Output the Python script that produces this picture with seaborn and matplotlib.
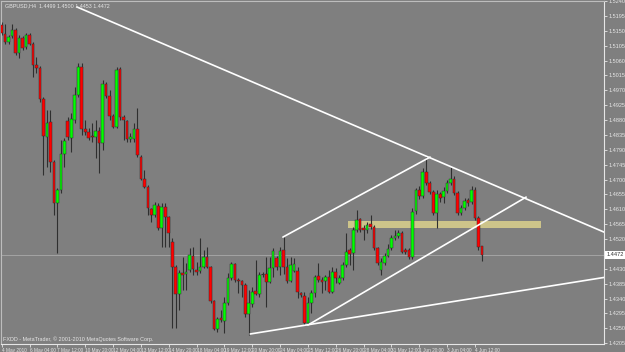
import numpy as np
import pandas as pd
import matplotlib
matplotlib.use("Agg")
import matplotlib.pyplot as plt
import matplotlib.transforms as mtransforms
from matplotlib.patches import Rectangle
import seaborn as sns

# ---------------- data (GBPUSD, H4) ----------------
open_ = [1.5167, 1.5140, 1.5116, 1.5134, 1.5152, 1.5083, 1.5128, 1.5101, 1.5137, 1.5110,
         1.5046, 1.5037, 1.4944, 1.4829, 1.4874, 1.4753, 1.4629, 1.4668, 1.4777, 1.4877,
         1.4826, 1.4880, 1.4956, 1.5040, 1.4853, 1.4844, 1.4832, 1.4829, 1.4847, 1.4811,
         1.4989, 1.4953, 1.4892, 1.4859, 1.5034, 1.4889, 1.4877, 1.4823, 1.4823, 1.4853,
         1.4768, 1.4702, 1.4678, 1.4611, 1.4593, 1.4620, 1.4554, 1.4617, 1.4587, 1.4511,
         1.4436, 1.4354, 1.4417, 1.4414, 1.4426, 1.4469, 1.4426, 1.4423, 1.4436, 1.4466,
         1.4436, 1.4333, 1.4248, 1.4281, 1.4272, 1.4327, 1.4402, 1.4445, 1.4396, 1.4393,
         1.4381, 1.4293, 1.4324, 1.4363, 1.4354, 1.4414, 1.4414, 1.4390, 1.4433, 1.4463,
         1.4436, 1.4487, 1.4436, 1.4393, 1.4423, 1.4423, 1.4357, 1.4348, 1.4266, 1.4327,
         1.4357, 1.4408, 1.4396, 1.4393, 1.4405, 1.4360, 1.4420, 1.4387, 1.4402, 1.4442,
         1.4487, 1.4478, 1.4547, 1.4581, 1.4554, 1.4547, 1.4566, 1.4557, 1.4493, 1.4426,
         1.4448, 1.4469, 1.4493, 1.4523, 1.4529, 1.4538, 1.4487, 1.4487, 1.4466, 1.4605,
         1.4668, 1.4650, 1.4723, 1.4690, 1.4662, 1.4599, 1.4656, 1.4647, 1.4665, 1.4690,
         1.4702, 1.4659, 1.4599, 1.4614, 1.4638, 1.4632, 1.4668, 1.4584, 1.4499]
high = [1.5176, 1.5170, 1.5137, 1.5170, 1.5158, 1.5137, 1.5134, 1.5143, 1.5143, 1.5116,
        1.5071, 1.5043, 1.4950, 1.4910, 1.4910, 1.4759, 1.4674, 1.4820, 1.4826, 1.4889,
        1.4901, 1.4980, 1.5052, 1.5052, 1.4880, 1.4856, 1.4871, 1.4880, 1.4859, 1.5001,
        1.4995, 1.4971, 1.4898, 1.5040, 1.5040, 1.4895, 1.4880, 1.4841, 1.4871, 1.4916,
        1.4774, 1.4729, 1.4684, 1.4614, 1.4632, 1.4629, 1.4629, 1.4629, 1.4590, 1.4523,
        1.4442, 1.4426, 1.4466, 1.4448, 1.4493, 1.4496, 1.4451, 1.4523, 1.4487, 1.4496,
        1.4439, 1.4336, 1.4284, 1.4306, 1.4345, 1.4417, 1.4451, 1.4448, 1.4402, 1.4396,
        1.4387, 1.4366, 1.4375, 1.4457, 1.4420, 1.4420, 1.4466, 1.4466, 1.4493, 1.4469,
        1.4496, 1.4526, 1.4463, 1.4466, 1.4463, 1.4436, 1.4360, 1.4360, 1.4345, 1.4366,
        1.4411, 1.4448, 1.4405, 1.4411, 1.4426, 1.4436, 1.4433, 1.4411, 1.4451, 1.4538,
        1.4493, 1.4557, 1.4608, 1.4584, 1.4563, 1.4572, 1.4593, 1.4563, 1.4496, 1.4463,
        1.4478, 1.4505, 1.4532, 1.4547, 1.4547, 1.4544, 1.4493, 1.4493, 1.4614, 1.4674,
        1.4681, 1.4735, 1.4768, 1.4696, 1.4668, 1.4668, 1.4662, 1.4678, 1.4699, 1.4738,
        1.4711, 1.4665, 1.4623, 1.4644, 1.4644, 1.4681, 1.4678, 1.4590, 1.4500]
low = [1.5137, 1.5110, 1.5110, 1.5128, 1.5077, 1.5068, 1.5092, 1.5095, 1.5107, 1.5010,
       1.5022, 1.4935, 1.4714, 1.4738, 1.4723, 1.4593, 1.4478, 1.4659, 1.4738, 1.4820,
       1.4783, 1.4871, 1.4950, 1.4835, 1.4835, 1.4820, 1.4814, 1.4765, 1.4720, 1.4789,
       1.4947, 1.4880, 1.4856, 1.4856, 1.4880, 1.4820, 1.4814, 1.4814, 1.4814, 1.4768,
       1.4699, 1.4674, 1.4593, 1.4572, 1.4587, 1.4547, 1.4496, 1.4496, 1.4496, 1.4251,
       1.4251, 1.4306, 1.4366, 1.4366, 1.4420, 1.4411, 1.4411, 1.4417, 1.4433, 1.4433,
       1.4327, 1.4245, 1.4239, 1.4269, 1.4236, 1.4321, 1.4396, 1.4390, 1.4357, 1.4345,
       1.4284, 1.4230, 1.4315, 1.4351, 1.4345, 1.4405, 1.4315, 1.4387, 1.4405, 1.4426,
       1.4411, 1.4414, 1.4387, 1.4390, 1.4420, 1.4342, 1.4345, 1.4260, 1.4260, 1.4296,
       1.4345, 1.4390, 1.4357, 1.4366, 1.4357, 1.4357, 1.4387, 1.4384, 1.4396, 1.4436,
       1.4442, 1.4426, 1.4541, 1.4541, 1.4517, 1.4538, 1.4550, 1.4487, 1.4442, 1.4411,
       1.4442, 1.4466, 1.4487, 1.4517, 1.4523, 1.4478, 1.4475, 1.4460, 1.4460, 1.4596,
       1.4641, 1.4644, 1.4684, 1.4656, 1.4593, 1.4554, 1.4632, 1.4629, 1.4659, 1.4684,
       1.4653, 1.4593, 1.4593, 1.4608, 1.4620, 1.4626, 1.4578, 1.4487, 1.4453]
close = [1.5143, 1.5116, 1.5131, 1.5152, 1.5083, 1.5128, 1.5098, 1.5137, 1.5110, 1.5046,
         1.5037, 1.4944, 1.4832, 1.4871, 1.4753, 1.4629, 1.4668, 1.4777, 1.4817, 1.4829,
         1.4883, 1.4956, 1.5040, 1.4853, 1.4844, 1.4826, 1.4829, 1.4847, 1.4811, 1.4989,
         1.4953, 1.4892, 1.4859, 1.5031, 1.4889, 1.4880, 1.4823, 1.4829, 1.4853, 1.4774,
         1.4702, 1.4678, 1.4614, 1.4593, 1.4623, 1.4554, 1.4617, 1.4587, 1.4538, 1.4436,
         1.4354, 1.4417, 1.4411, 1.4420, 1.4472, 1.4429, 1.4420, 1.4436, 1.4466, 1.4436,
         1.4333, 1.4248, 1.4278, 1.4275, 1.4327, 1.4402, 1.4445, 1.4396, 1.4393, 1.4381,
         1.4293, 1.4327, 1.4360, 1.4354, 1.4411, 1.4414, 1.4390, 1.4433, 1.4484, 1.4436,
         1.4484, 1.4436, 1.4393, 1.4442, 1.4445, 1.4360, 1.4351, 1.4266, 1.4327, 1.4357,
         1.4405, 1.4396, 1.4390, 1.4405, 1.4360, 1.4420, 1.4402, 1.4402, 1.4442, 1.4481,
         1.4475, 1.4547, 1.4578, 1.4547, 1.4547, 1.4563, 1.4557, 1.4493, 1.4448, 1.4451,
         1.4469, 1.4490, 1.4523, 1.4529, 1.4538, 1.4481, 1.4481, 1.4466, 1.4602, 1.4668,
         1.4650, 1.4723, 1.4690, 1.4662, 1.4599, 1.4656, 1.4644, 1.4665, 1.4690, 1.4702,
         1.4659, 1.4599, 1.4614, 1.4635, 1.4629, 1.4668, 1.4584, 1.4496, 1.4472]

time_tick_bars = [0, 8, 16, 24, 32, 40, 48, 56, 64, 72, 80, 88, 96, 104, 112, 120, 128, 136]
time_tick_labels = ["4 May 2010", "6 May 04:00", "7 May 12:00", "10 May 20:00", "12 May 04:00",
                    "13 May 12:00", "14 May 20:00", "18 May 04:00", "19 May 12:00",
                    "20 May 20:00", "24 May 04:00", "25 May 12:00", "26 May 20:00",
                    "28 May 04:00", "31 May 12:00", "1 Jun 20:00", "3 Jun 04:00", "4 Jun 12:00"]
price_ticks = [1.4205, 1.4250, 1.4295, 1.4340, 1.4385, 1.4430, 1.4475, 1.4520, 1.4565,
               1.4610, 1.4655, 1.4700, 1.4745, 1.4790, 1.4835, 1.4880, 1.4925, 1.4970,
               1.5015, 1.5060, 1.5105, 1.5150, 1.5195, 1.5240]

# trend lines (bar index, price)
trend_names = ["falling", "falling", "channel_top", "channel_top",
               "channel_bottom", "channel_bottom", "support", "support"]
trend_bars = [21.6, 173.1, 80.8, 123.1, 88.0, 150.7, 71.4, 173.1]
trend_prices = [1.5222, 1.4541, 1.4526, 1.4768, 1.4260, 1.4647, 1.4233, 1.4404]

# horizontal zone (rectangle)
zone_bars = [99.5, 155.0]
zone_prices = [1.4554, 1.4576]

last_price = 1.4472
symbol_title = "GBPUSD,H4  1.4499 1.4500 1.4453 1.4472"
footer = "FXDD - MetaTrader, \u00a9 2001-2010 MetaQuotes Software Corp."

# ---------------- style ----------------
BG = "#7f7f7f"
FG = "#e6e6e6"
sns.set_style("dark", {"axes.facecolor": BG, "figure.facecolor": BG,
                       "axes.edgecolor": FG, "axes.grid": False})
plt.rcParams["font.family"] = ["Liberation Sans Narrow", "Liberation Sans", "DejaVu Sans"]

W, H = 625, 352
fig = plt.figure(figsize=(W / 100, H / 100), dpi=100)
ax = fig.add_axes([1 / W, (H - 344) / H, 603 / W, 343 / H])
ax.set_facecolor(BG)

# zone
ax.add_patch(Rectangle((zone_bars[0], zone_prices[0]), zone_bars[1] - zone_bars[0],
                       zone_prices[1] - zone_prices[0], facecolor="#d6cc8c",
                       edgecolor="none", alpha=0.9, zorder=1))

# current price line
ax.axhline(last_price, color="#a4a4a4", lw=0.7, zorder=1.2)

# candles
df = pd.DataFrame({"open": open_, "high": high, "low": low, "close": close})
df["bar"] = np.arange(len(df))
wick_c = "#2f2f2f"
bw = 0.76
ax.vlines(df["bar"], df["low"], df["high"], color=wick_c, lw=0.8, zorder=2)
for b, o, c in zip(df["bar"], df["open"], df["close"]):
    if c > o:
        fc = "#00ff00"
    elif c < o:
        fc = "#ff0000"
    else:
        ax.hlines(o, b - bw / 2, b + bw / 2, color=wick_c, lw=0.8, zorder=3)
        continue
    ax.add_patch(Rectangle((b - bw / 2, min(o, c)), bw, abs(c - o), facecolor=fc,
                           edgecolor=wick_c, lw=0.35, zorder=3))

# trend lines via seaborn
tl = pd.DataFrame({"line": trend_names, "bar": trend_bars, "price": trend_prices})
sns.lineplot(data=tl, x="bar", y="price", hue="line", units="line", estimator=None,
             palette={n: "white" for n in set(trend_names)}, lw=1.2, legend=False,
             ax=ax, zorder=4, sort=False)

# axes limits (bar index / price)
ax.set_xlim(-0.2, 173.07)
ax.set_ylim(1.42027, 1.5240)
ax.set_xlabel("")
ax.set_ylabel("")

# price axis on right (the 1.4475 level is hidden behind the last-price marker)
ax.yaxis.tick_right()
ax.set_yticks(price_ticks)
ax.set_yticklabels(["" if abs(v - 1.4475) < 1e-6 else f"{v:.4f}" for v in price_ticks])
ax.tick_params(axis="y", which="major", direction="out", length=2, width=0.6,
               colors=FG, labelsize=4.0, pad=1.5, right=True, left=False)
ax.set_xticks(time_tick_bars)
ax.set_xticklabels(time_tick_labels, ha="left")
ax.tick_params(axis="x", which="major", direction="out", length=2, width=0.6,
               colors=FG, labelsize=3.4, pad=0.6, bottom=True)
for lab in ax.get_yticklabels():
    lab.set_clip_on(False)

for s in ax.spines.values():
    s.set_color(FG)
    s.set_linewidth(0.8)
ax.spines["top"].set_color("#bdbdbd")
ax.spines["left"].set_color("#bdbdbd")

# last price marker
trans = mtransforms.blended_transform_factory(ax.transAxes, ax.transData)
ax.text(1.004, last_price, f"{last_price:.4f}", transform=trans, ha="left", va="center",
        fontsize=4.0, color="#303030", zorder=6, clip_on=False,
        bbox=dict(boxstyle="square,pad=0.2", facecolor="white", edgecolor="none"))

# header and footer texts
ax.text(0.006, 0.986, symbol_title, transform=ax.transAxes, ha="left", va="center",
        fontsize=3.9, color=FG, zorder=6)
ax.text(0.004, 0.014, footer, transform=ax.transAxes, ha="left", va="center",
        fontsize=3.9, color=FG, zorder=6)

fig.savefig("out.png", dpi=100, facecolor=BG)
